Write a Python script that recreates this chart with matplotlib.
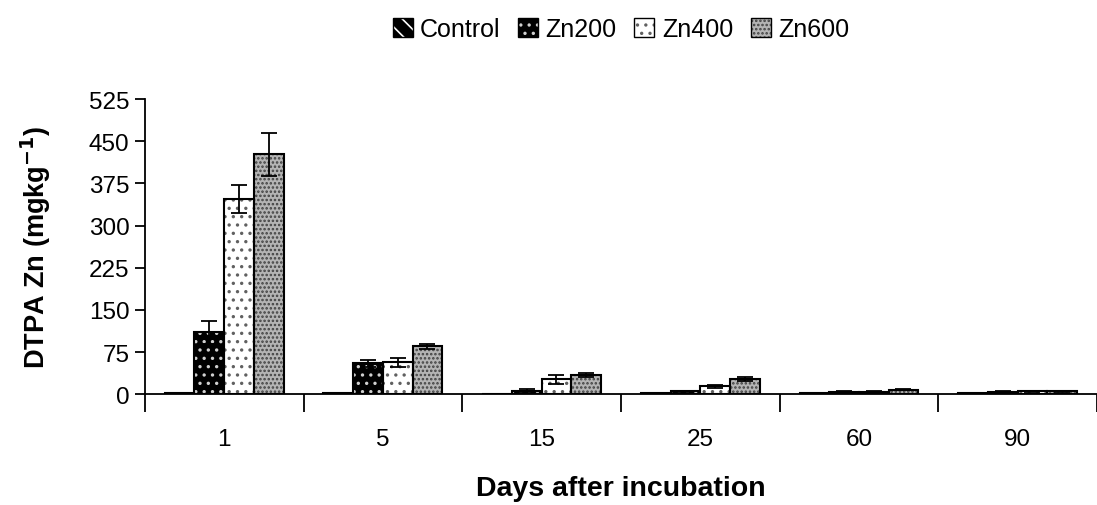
import numpy as np
import matplotlib.pyplot as plt
from matplotlib.patches import Patch

plt.rcParams['font.family'] = ['Liberation Sans', 'DejaVu Sans']
plt.rcParams['hatch.linewidth'] = 1.2

# Data
days = ['1', '5', '15', '25', '60', '90']
series = ['Control', 'Zn200', 'Zn400', 'Zn600']
control = [2, 2, 1, 2, 2, 2]
zn200 = [110, 55, 6, 5, 4, 4]
zn400 = [347, 57, 27, 14, 4, 5]
zn600 = [427, 85, 34, 27, 8, 5]
control_err = [0, 0, 0, 0, 0, 0]
zn200_err = [20, 6, 3, 1, 1, 1]
zn400_err = [25, 8, 8, 3, 1, 1]
zn600_err = [38, 4, 3, 3, 1, 1]

values = [control, zn200, zn400, zn600]
errors = [control_err, zn200_err, zn400_err, zn600_err]
# (face, hatch colour, hatch)
styles = [('black', 'white', '\\\\'),
          ('black', '#d0d0d0', '..'),
          ('white', '#606060', '..'),
          ('#b4b4b4', '#404040', '....')]

fig = plt.figure(figsize=(10.97, 5.06), dpi=100)
ax = fig.add_axes([0.132, 0.219, 0.868, 0.583])

x = np.arange(len(days))
w = 0.187
for i, (vals, errs, (fc, hc, hatch)) in enumerate(zip(values, errors, styles)):
    pos = x + (i - 1.5) * w
    ax.bar(pos, vals, w, color=fc, edgecolor=hc, hatch=hatch, linewidth=0, zorder=2)
    ax.bar(pos, vals, w, fill=False, edgecolor='black', linewidth=1.5, zorder=3)
    if i > 0:
        ax.errorbar(pos, vals, yerr=errs, fmt='none', ecolor='black',
                    elinewidth=1.3, capsize=5.5, capthick=1.3, zorder=4)

ax.set_ylim(0, 525)
ax.set_yticks(np.arange(0, 526, 75))
ax.set_xlim(-0.5, 5.43)
ax.set_xticks(np.arange(-0.5, 6, 1))
ax.set_xticklabels([])
ax.set_xticks(x, minor=True)
ax.set_xticklabels(days, minor=True)
ax.tick_params(axis='x', which='major', length=13, width=1.3, direction='out')
ax.tick_params(axis='x', which='minor', length=0, pad=24, labelsize=17.5)
ax.tick_params(axis='y', length=7, width=1.3, direction='out', labelsize=17.5, pad=4)

for s in ['top', 'right']:
    ax.spines[s].set_visible(False)
for s in ['left', 'bottom']:
    ax.spines[s].set_linewidth(1.3)

ax.set_ylabel('DTPA Zn (mgkg$^{\\mathbf{-1}}$)', fontsize=19.5, fontweight='bold', labelpad=26)
ax.set_xlabel('Days after incubation', fontsize=20.5, fontweight='bold', labelpad=18)

handles = [(Patch(facecolor=fc, edgecolor=hc, hatch=hatch, linewidth=0),
            Patch(fill=False, edgecolor='black', linewidth=1))
           for fc, hc, hatch in styles]
fig.legend(handles, series, loc='center', bbox_to_anchor=(0.566, 0.94), ncol=4,
           frameon=False, fontsize=18, handlelength=0.8, handleheight=0.8,
           handletextpad=0.3, columnspacing=0.7)

fig.savefig('out.png', dpi=100)
